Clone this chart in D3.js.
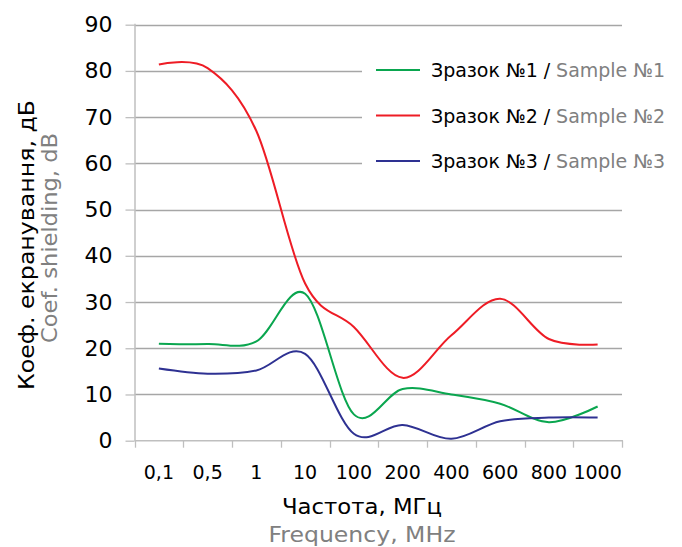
<!DOCTYPE html>
<html>
<head>
<meta charset="utf-8">
<script src="https://cdn.jsdelivr.net/npm/d3@7"></script>
<style>
  body { margin: 0; background: #fff; }
  svg { display: block; font-family: "DejaVu Sans", Verdana, sans-serif; }
</style>
</head>
<body>
<svg id="chart" width="682" height="547"></svg>
<script>
const categories = ["0,1", "0,5", "1", "10", "100", "200", "400", "600", "800", "1000"];
const sample1 = [21.0, 20.9, 21.5, 31.8, 5.7, 11.2, 10.0, 8.0, 4.0, 7.4];
const sample2 = [81.4, 80.6, 67.0, 34.0, 24.6, 13.6, 22.8, 30.7, 22.0, 20.8];
const sample3 = [15.6, 14.5, 15.2, 18.8, 1.5, 3.4, 0.4, 4.2, 5.0, 5.0];
const yTicks = [0, 10, 20, 30, 40, 50, 60, 70, 80, 90];
const seriesNamesUa = ["Зразок №1", "Зразок №2", "Зразок №3"];
const seriesNamesEn = ["Sample №1", "Sample №2", "Sample №3"];
const seriesColors = ["#0aa64f", "#ee1c25", "#2e3192"];
const yTitleUa = "Коеф. екранування, дБ";
const yTitleEn = "Coef. shielding, dB";
const xTitleUa = "Частота, МГц";
const xTitleEn = "Frequency, MHz";

(function () {
const series = [sample1, sample2, sample3];

const svg = d3.select("#chart");
const pL = 134.5, pR = 622, pT = 24.7, pB = 440.7;

const x = d3.scaleBand().domain(categories).range([pL, pR]).padding(0);
const xc = c => x(c) + x.bandwidth() / 2;
const y = d3.scaleLinear().domain([0, 90]).range([pB, pT]);

// gridlines
const grid = svg.append("g");
yTicks.filter(t => t > 0).forEach(t => {
  grid.append("line")
    .attr("x1", pL).attr("x2", pR)
    .attr("y1", Math.round(y(t)) + 0.5).attr("y2", Math.round(y(t)) + 0.5)
    .attr("stroke", "#a6a6a6").attr("stroke-width", 1.3);
});

// y axis
const yAxis = d3.axisLeft(y).tickValues(yTicks).tickSize(9).tickPadding(13);
const gy = svg.append("g").attr("transform", `translate(${pL},0)`).call(yAxis);
gy.select(".domain").attr("stroke", "#bfbfbf").attr("stroke-width", 1.5).attr("d", `M0.5,${pB}V${pT - 1}`);
gy.selectAll(".tick line").attr("stroke", "#bfbfbf").attr("stroke-width", 1.3);
gy.selectAll(".tick text").attr("font-size", 22).attr("fill", "#000")
  .attr("font-family", "DejaVu Sans, Verdana, sans-serif");

// x axis: tick marks at band boundaries
const xAxisG = svg.append("g");
xAxisG.append("line").attr("x1", pL).attr("x2", pR + 1)
  .attr("y1", pB).attr("y2", pB).attr("stroke", "#bfbfbf").attr("stroke-width", 1.5);
const bounds = categories.map(c => x(c)).concat([x(categories[categories.length - 1]) + x.bandwidth()]);
xAxisG.selectAll("line.tk").data(bounds).join("line").attr("class", "tk")
  .attr("x1", d => Math.round(d) + 0.5).attr("x2", d => Math.round(d) + 0.5)
  .attr("y1", pB).attr("y2", pB + 7)
  .attr("stroke", "#bfbfbf").attr("stroke-width", 1.3);
xAxisG.selectAll("text").data(categories).join("text")
  .attr("x", d => xc(d)).attr("y", 479)
  .attr("text-anchor", "middle").attr("font-size", 19).attr("fill", "#000")
  .text(d => d);

// legend background (covers gridlines)
svg.append("rect").attr("x", 362).attr("y", 40).attr("width", 262).attr("height", 155).attr("fill", "#fff");

// lines
const line = d3.line()
  .x((d, i) => xc(categories[i]))
  .y(d => y(d))
  .curve(d3.curveCardinal.tension(0));
series.forEach((s, k) => {
  svg.append("path").datum(s).attr("d", line)
    .attr("fill", "none").attr("stroke", seriesColors[k]).attr("stroke-width", 2);
});

// legend
const legRows = [70, 115.5, 161];
seriesNamesUa.forEach((n, k) => {
  const g = svg.append("g");
  g.append("line").attr("x1", 376).attr("x2", 420).attr("y1", legRows[k]).attr("y2", legRows[k])
    .attr("stroke", seriesColors[k]).attr("stroke-width", 2);
  const t = g.append("text").attr("x", 431).attr("y", legRows[k] + 7).attr("font-size", 19)
    .attr("textLength", 234).attr("lengthAdjust", "spacing");
  t.append("tspan").attr("fill", "#000").text(n + " / ");
  t.append("tspan").attr("fill", "#808080").text(seriesNamesEn[k]);
});

// y title
svg.append("text").attr("transform", "translate(34,245) rotate(-90)")
  .attr("text-anchor", "middle").attr("font-size", 21.5).attr("fill", "#000")
  .attr("textLength", 290).attr("lengthAdjust", "spacingAndGlyphs").text(yTitleUa);
svg.append("text").attr("transform", "translate(57,238) rotate(-90)")
  .attr("text-anchor", "middle").attr("font-size", 21.5).attr("fill", "#808080")
  .attr("textLength", 210).attr("lengthAdjust", "spacingAndGlyphs").text(yTitleEn);

// x title
svg.append("text").attr("x", 362).attr("y", 514).attr("text-anchor", "middle")
  .attr("font-size", 22).attr("fill", "#000")
  .attr("textLength", 160).attr("lengthAdjust", "spacingAndGlyphs").text(xTitleUa);
svg.append("text").attr("x", 362).attr("y", 542).attr("text-anchor", "middle")
  .attr("font-size", 22).attr("fill", "#808080")
  .attr("textLength", 187).attr("lengthAdjust", "spacingAndGlyphs").text(xTitleEn);
})();
</script>
</body>
</html>
